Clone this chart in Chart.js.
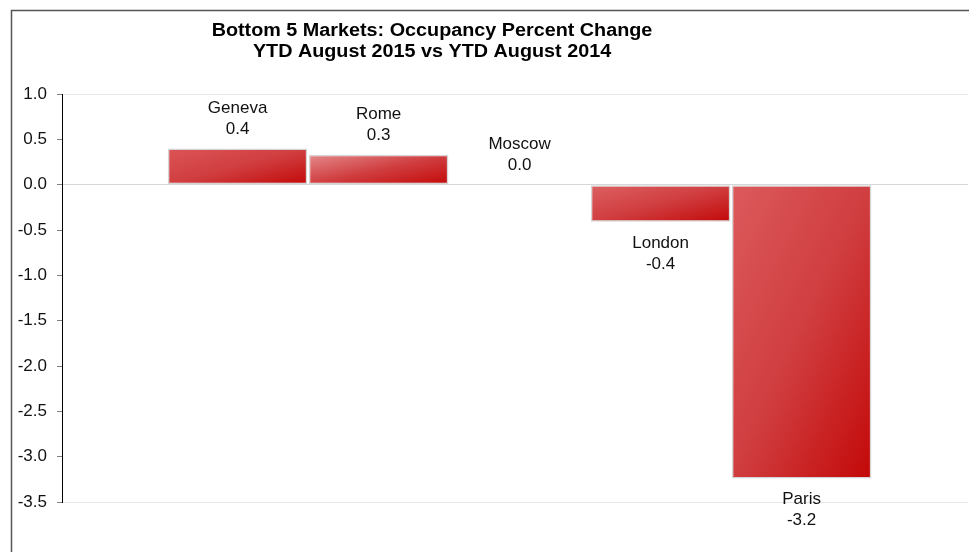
<!DOCTYPE html>
<html>
<head>
<meta charset="utf-8">
<script src="https://cdn.jsdelivr.net/npm/chart.js@4"></script>
<style>
  html, body { margin: 0; padding: 0; background: #fff; }
  #wrap { position: relative; width: 969px; height: 552px; }
</style>
</head>
<body>
<div id="wrap"><canvas id="myChart" width="969" height="552"></canvas></div>
<script>
const markets = ["Geneva", "Rome", "Moscow", "London", "Paris"];
const changes = [0.40, 0.33, 0.0, -0.41, -3.24];
const yTicks = [1.0, 0.5, 0.0, -0.5, -1.0, -1.5, -2.0, -2.5, -3.0, -3.5];
const titleLines = ["Bottom 5 Markets: Occupancy Percent Change", "YTD August 2015 vs YTD August 2014"];

const lightStops = ['#dc5558', '#e48a8b', '#dc5558', '#de6163', '#dc5a5c'];
const font = '"Liberation Sans", Arial, sans-serif';

function barGradient(ctx) {
    if (ctx.type !== 'data') return '#d03a3c';
    const chart = ctx.chart;
    if (!chart.chartArea) return '#d03a3c';
    const i = ctx.dataIndex;
    const v = changes[i];
    const xs = chart.scales.x, ys = chart.scales.y;
    const x0 = xs.getPixelForValue(i - 0.5);
    const x1 = xs.getPixelForValue(i + 0.5);
    const yTop = ys.getPixelForValue(Math.max(v, 0));
    const yBot = ys.getPixelForValue(Math.min(v, 0));
    const w = x1 - x0, h = Math.max(yBot - yTop, 1);
    const L2 = w * w + h * h;
    const k = 2 * w * h / L2;
    const g = chart.ctx.createLinearGradient(x0, yTop, x0 + h * k, yTop + w * k);
    g.addColorStop(0, lightStops[i]);
    g.addColorStop(0.5, '#d03e40');
    g.addColorStop(1, '#c30808');
    return g;
}

const decorations = {
    id: 'decorations',
    afterDraw(chart) {
        const c = chart.ctx;
        c.save();
        // title (the original is set a little wide)
        c.fillStyle = '#000';
        c.font = 'bold 17.5px ' + font;
        c.textAlign = 'center';
        c.textBaseline = 'middle';
        c.save();
        c.translate(432, 0);
        c.scale(1.13, 1);
        c.fillText(titleLines[0], 0, 31);
        c.fillText(titleLines[1], 0, 52);
        c.restore();
        // bar labels
        c.font = '17px ' + font;
        c.fillStyle = '#111';
        const meta = chart.getDatasetMeta(0);
        meta.data.forEach((bar, i) => {
            const v = changes[i];
            if (v >= 0) {
                c.fillText(v.toFixed(1), bar.x, bar.y - 19);
                c.fillText(markets[i], bar.x, bar.y - 40);
            } else {
                c.fillText(markets[i], bar.x, bar.y + 21);
                c.fillText(v.toFixed(1), bar.x, bar.y + 42);
            }
        });
        // outer frame
        c.strokeStyle = '#555';
        c.lineWidth = 1.5;
        c.strokeRect(11.5, 10.5, 2000, 2000);
        c.restore();
    }
};

new Chart(document.getElementById('myChart'), {
    type: 'bar',
    data: {
        datasets: [{
            data: markets.map((m, i) => ({ x: i, y: changes[i] })),
            backgroundColor: barGradient,
            borderColor: '#d4d4d4',
            borderWidth: 1.5,
            borderSkipped: false,
            barPercentage: 0.99,
            categoryPercentage: 1
        }]
    },
    options: {
        responsive: false,
        animation: false,
        layout: { padding: { left: 0, right: 1, top: 94, bottom: 50 } },
        plugins: {
            legend: { display: false },
            tooltip: { enabled: false },
            title: { display: false }
        },
        scales: {
            x: {
                type: 'linear',
                display: false,
                offset: false,
                min: -1.245,
                max: 5.18
            },
            y: {
                min: -3.5,
                max: 1.0,
                afterFit(scale) { scale.width = 62; },
                afterBuildTicks(scale) { scale.ticks = yTicks.map(v => ({ value: v })); },
                ticks: {
                    color: '#111',
                    font: { family: font, size: 17 },
                    padding: 10,
                    callback: v => Number(v).toFixed(1)
                },
                grid: {
                    drawTicks: true,
                    tickLength: 5,
                    tickColor: '#808080',
                    color: ctx => {
                        const v = ctx.tick ? ctx.tick.value : null;
                        if (v === null) return 'rgba(0,0,0,0)';
                        if (Math.abs(v) < 1e-9) return '#d6d6d6';
                        if (Math.abs(v - 1) < 1e-9 || Math.abs(v + 3.5) < 1e-9) return '#e6e6e6';
                        return 'rgba(0,0,0,0)';
                    }
                },
                border: { color: '#000', width: 1 }
            }
        }
    },
    plugins: [decorations]
});
</script>
</body>
</html>
